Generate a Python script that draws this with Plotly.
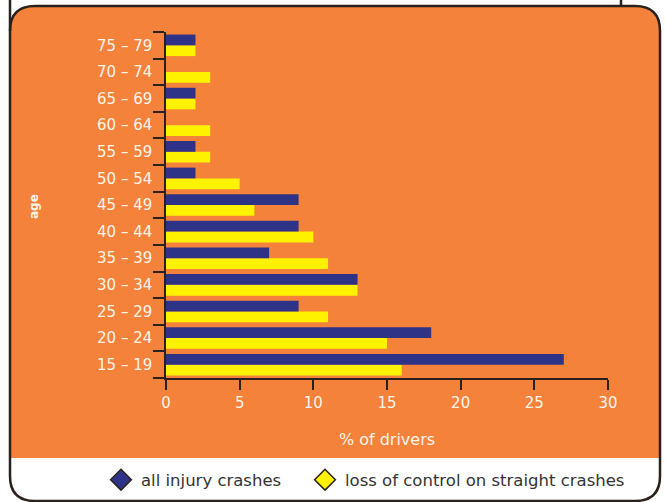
import plotly.graph_objects as go

# Age groups, youngest first (bottom of the chart)
age_groups = ["15 – 19", "20 – 24", "25 – 29", "30 – 34", "35 – 39", "40 – 44",
              "45 – 49", "50 – 54", "55 – 59", "60 – 64", "65 – 69", "70 – 74", "75 – 79"]

# Percentage of drivers in each age group
all_injury = [27, 18, 9, 13, 7, 9, 9, 2, 2, 0, 2, 0, 2]
loss_of_control = [16, 15, 11, 13, 11, 10, 6, 5, 3, 3, 2, 3, 2]

x_ticks = [0, 5, 10, 15, 20, 25, 30]

ORANGE = "#F5823A"
NAVY = "#2E3388"
YELLOW = "#FFF200"
DARK = "#2A211D"
CREAM = "#FFF4EA"
FONT = "DejaVu Sans"

W, H = 666, 502
L, R, T, B = 166, 58, 32, 124
PW, PH = W - L - R, H - T - B


def px(x):
    return (x - L) / PW


def py(y):
    return (H - B - y) / PH


def path(points):
    cmds = []
    for p in points:
        if p[0] == "Z":
            cmds.append("Z")
        elif p[0] in "ML":
            cmds.append(f"{p[0]} {px(p[1]):.5f},{py(p[2]):.5f}")
        else:  # quadratic: control + end
            cmds.append(f"Q {px(p[1]):.5f},{py(p[2]):.5f} {px(p[3]):.5f},{py(p[4]):.5f}")
    return " ".join(cmds)


fig = go.Figure()

# yellow first so it sits below the navy bar inside each group
fig.add_trace(go.Bar(y=age_groups, x=loss_of_control, orientation="h",
                     marker=dict(color=YELLOW, line=dict(width=0)),
                     showlegend=False, hoverinfo="x+y"))
fig.add_trace(go.Bar(y=age_groups, x=all_injury, orientation="h",
                     marker=dict(color=NAVY, line=dict(width=0)),
                     showlegend=False, hoverinfo="x+y"))

# legend entries drawn as diamonds, each in its own legend box
for name, col, leg in [("all injury crashes", NAVY, "legend"),
                       ("loss of control on straight crashes", YELLOW, "legend2")]:
    fig.add_trace(go.Scatter(x=[None], y=[None], mode="markers", name=name,
                             legend=leg,
                             marker=dict(symbol="diamond", size=16, color=col,
                                         line=dict(color=DARK, width=1.5))))

shapes = [
    # orange panel with rounded top corners
    dict(type="path", xref="paper", yref="paper", layer="below",
         path=path([("M", 10, 458), ("L", 10, 31), ("Q", 10, 6, 35, 6),
                    ("L", 635, 6), ("Q", 660, 6, 660, 31), ("L", 660, 458), ("Z",)]),
         fillcolor=ORANGE, line=dict(width=0)),
    # panel top outline
    dict(type="path", xref="paper", yref="paper", layer="above",
         path=path([("M", 10, 31), ("Q", 10, 6, 35, 6), ("L", 635, 6),
                    ("Q", 660, 6, 660, 31)]),
         line=dict(color=DARK, width=2.5)),
    # outer frame
    dict(type="path", xref="paper", yref="paper", layer="above",
         path=path([("M", 10, -2), ("L", 10, 476), ("Q", 10, 501, 35, 501),
                    ("L", 635, 501), ("Q", 660, 501, 660, 476), ("L", 660, 31)]),
         line=dict(color=DARK, width=2.5)),
    # edge of the box above
    dict(type="line", xref="paper", yref="paper", layer="above",
         x0=px(621), x1=px(621), y0=py(-2), y1=py(6),
         line=dict(color=DARK, width=2.5)),
]

legend_style = dict(orientation="h", yanchor="middle", y=py(480), xanchor="left",
                    font=dict(size=16.5, color="#333333", family=FONT),
                    bgcolor="rgba(0,0,0,0)", itemclick=False, itemdoubleclick=False)

fig.update_layout(
    width=W, height=H,
    margin=dict(l=L, r=R, t=T, b=B, autoexpand=False),
    paper_bgcolor="white",
    plot_bgcolor="rgba(0,0,0,0)",
    barmode="group", bargap=0.19, bargroupgap=0,
    font=dict(family=FONT, color=CREAM, size=15),
    shapes=shapes,
    showlegend=True,
    legend=dict(legend_style, x=px(101)),
    legend2=dict(legend_style, x=px(305)),
    annotations=[dict(text="<b>age</b>", textangle=-90, xref="paper", yref="paper",
                      x=px(34), y=py(207), xanchor="center", yanchor="middle",
                      showarrow=False,
                      font=dict(size=12, color=CREAM, family=FONT))],
    xaxis=dict(range=[0, 30], tickvals=x_ticks, showgrid=False, zeroline=False,
               showline=True, linecolor=DARK, linewidth=1.5,
               ticks="outside", ticklen=10, tickwidth=1.5, tickcolor=DARK,
               tickfont=dict(size=15, color=CREAM), ticklabelstandoff=0,
               title=dict(text="% of drivers", font=dict(size=16, color=CREAM),
                          standoff=23),
               fixedrange=True),
    yaxis=dict(type="category", categoryorder="array", categoryarray=age_groups,
               showgrid=False, zeroline=False,
               showline=True, linecolor=DARK, linewidth=1.5,
               ticks="outside", ticklen=11, tickwidth=1.5, tickcolor=DARK,
               tickson="boundaries", ticklabelstandoff=9,
               tickfont=dict(size=15, color=CREAM), fixedrange=True),
)

fig.write_html("out.html")
